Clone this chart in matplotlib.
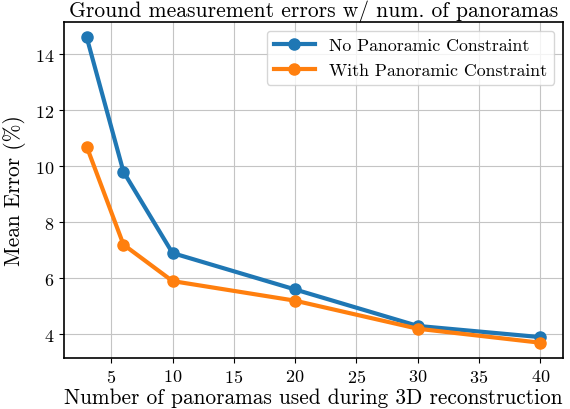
import matplotlib
matplotlib.use("Agg")
import matplotlib.pyplot as plt

# Data
num_panoramas = [3, 6, 10, 20, 30, 40]
no_constraint = [14.6, 9.8, 6.9, 5.6, 4.3, 3.9]
with_constraint = [10.7, 7.2, 5.9, 5.2, 4.2, 3.7]

plt.rcParams["font.family"] = ["cmr10", "DejaVu Serif"]
plt.rcParams["mathtext.fontset"] = "cm"
plt.rcParams["axes.formatter.use_mathtext"] = True

fig, ax = plt.subplots(figsize=(5.7, 4.1), dpi=100)
fig.subplots_adjust(left=0.1123, right=0.9877, top=0.9439, bottom=0.1244)

ax.plot(num_panoramas, no_constraint, marker="o", color="#1f77b4", linewidth=3,
        markersize=8, label="No Panoramic Constraint")
ax.plot(num_panoramas, with_constraint, marker="o", color="#ff7f0e", linewidth=3,
        markersize=8, label="With Panoramic Constraint")

ax.set_title("Ground measurement errors w/ num. of panoramas", fontsize=15.5, pad=4)
ax.set_xlabel("Number of panoramas used during 3D reconstruction", fontsize=15.4, labelpad=2)
ax.set_ylabel("Mean Error (%)", fontsize=15.4, labelpad=6)
ax.tick_params(labelsize=13)
ax.set_xticks([5, 10, 15, 20, 25, 30, 35, 40])
ax.set_yticks([4, 6, 8, 10, 12, 14])
ax.grid(True, color="#c4c4c4", linewidth=0.8)
for s in ax.spines.values():
    s.set_linewidth(1.2)

ax.legend(loc="upper right", fontsize=12.8, handlelength=2.3)

fig.savefig("out.png", dpi=100)
